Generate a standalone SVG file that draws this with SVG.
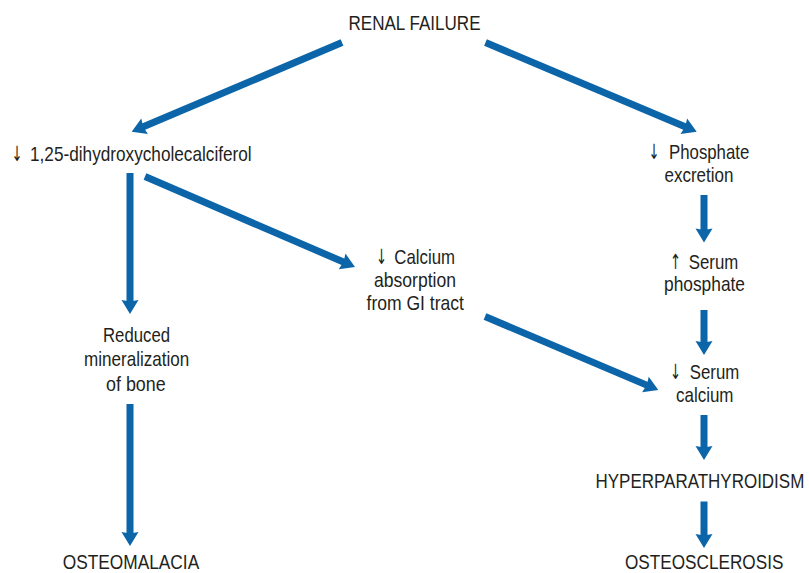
<svg xmlns="http://www.w3.org/2000/svg" width="809" height="573" viewBox="0 0 809 573">
<style>
  .t { font-family: "Liberation Sans Narrow", "Liberation Sans", Arial, sans-serif; font-size: 21px; fill: #231f20; }
  .a { font-family: "DejaVu Sans", "Liberation Sans", sans-serif; font-size: 21px; fill: #231f20; }
  .c { fill: none; stroke: #0b65a8; stroke-width: 7; stroke-linecap: butt; marker-end: url(#ah); }
</style>
<defs>
  <marker id="ah" markerUnits="userSpaceOnUse" markerWidth="20" markerHeight="20" viewBox="-2 -10 18 20" refX="4" refY="0" orient="auto">
    <path d="M0,-8.5 L14,0 L0,8.5 L1.5,0 Z" fill="#0b65a8"/>
  </marker>
</defs>
<rect width="809" height="573" fill="#ffffff"/>
<g id="connectors">
  <line class="c" x1="342" y1="42.5" x2="140.9" y2="127.8"/>
  <line class="c" x1="485.5" y1="42.5" x2="687.5" y2="127.8"/>
  <line class="c" x1="130" y1="173" x2="130" y2="304"/>
  <line class="c" x1="145" y1="176.5" x2="345.8" y2="263"/>
  <line class="c" x1="130" y1="404" x2="130" y2="536"/>
  <line class="c" x1="704" y1="195" x2="704" y2="232.5"/>
  <line class="c" x1="704" y1="310" x2="704" y2="345"/>
  <line class="c" x1="485" y1="316.5" x2="649.1" y2="386.1"/>
  <line class="c" x1="704" y1="415" x2="704" y2="450"/>
  <line class="c" x1="704" y1="501.5" x2="704" y2="538"/>
</g>
<g id="renal-failure"><text class="t" x="348.5" y="30" textLength="132" lengthAdjust="spacingAndGlyphs">RENAL FAILURE</text></g>
<g id="dihydroxy">
  <text class="a" x="11.5" y="161" textLength="11" lengthAdjust="spacingAndGlyphs">↓</text>
  <text class="t" x="30" y="161" textLength="221.7" lengthAdjust="spacingAndGlyphs">1,25-dihydroxycholecalciferol</text>
</g>
<g id="phosphate-excretion">
  <text class="a" x="648.5" y="158.5" textLength="11" lengthAdjust="spacingAndGlyphs">↓</text>
  <text class="t" x="669" y="158.5" textLength="80.3" lengthAdjust="spacingAndGlyphs">Phosphate</text>
  <text class="t" x="664.5" y="182" textLength="69" lengthAdjust="spacingAndGlyphs">excretion</text>
</g>
<g id="calcium-absorption">
  <text class="a" x="376" y="263.5" textLength="11" lengthAdjust="spacingAndGlyphs">↓</text>
  <text class="t" x="394.3" y="263.5" textLength="60.7" lengthAdjust="spacingAndGlyphs">Calcium</text>
  <text class="t" x="374" y="287" textLength="82" lengthAdjust="spacingAndGlyphs">absorption</text>
  <text class="t" x="366.5" y="310" textLength="97.5" lengthAdjust="spacingAndGlyphs">from GI tract</text>
</g>
<g id="reduced-mineralization">
  <text class="t" x="103" y="341.5" textLength="67" lengthAdjust="spacingAndGlyphs">Reduced</text>
  <text class="t" x="84" y="366" textLength="105.3" lengthAdjust="spacingAndGlyphs">mineralization</text>
  <text class="t" x="106" y="390.5" textLength="59.7" lengthAdjust="spacingAndGlyphs">of bone</text>
</g>
<g id="serum-phosphate">
  <text class="a" x="670" y="268.5" textLength="11" lengthAdjust="spacingAndGlyphs">↑</text>
  <text class="t" x="688.8" y="268.5" textLength="49.5" lengthAdjust="spacingAndGlyphs">Serum</text>
  <text class="t" x="664" y="291" textLength="81" lengthAdjust="spacingAndGlyphs">phosphate</text>
</g>
<g id="serum-calcium">
  <text class="a" x="670" y="378.5" textLength="11" lengthAdjust="spacingAndGlyphs">↓</text>
  <text class="t" x="689.8" y="378.5" textLength="49.5" lengthAdjust="spacingAndGlyphs">Serum</text>
  <text class="t" x="676" y="402" textLength="57.5" lengthAdjust="spacingAndGlyphs">calcium</text>
</g>
<g id="hyperparathyroidism"><text class="t" transform="translate(595.5,487.5) scale(0.8,1)" x="0" y="0" textLength="261" lengthAdjust="spacingAndGlyphs">HYPERPARATHYROIDISM</text></g>
<g id="osteosclerosis"><text class="t" transform="translate(625,569) scale(0.8,1)" x="0" y="0" textLength="198" lengthAdjust="spacingAndGlyphs">OSTEOSCLEROSIS</text></g>
<g id="osteomalacia"><text class="t" x="62.7" y="569" textLength="136.5" lengthAdjust="spacingAndGlyphs">OSTEOMALACIA</text></g>
</svg>
